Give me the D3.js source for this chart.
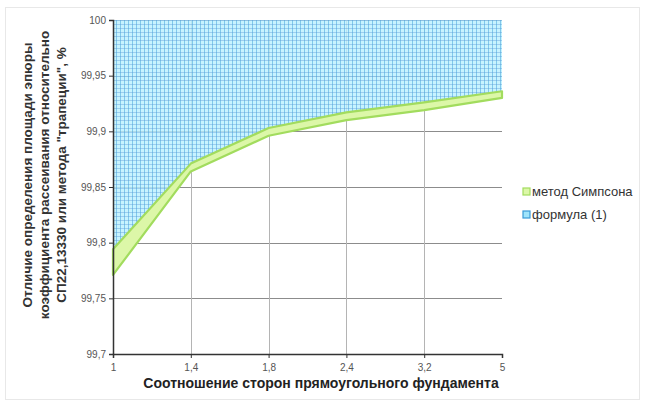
<!DOCTYPE html>
<html>
<head>
<meta charset="utf-8">
<script src="https://cdn.jsdelivr.net/npm/d3@7"></script>
<style>
  body { margin: 0; background: #fff; }
  text { font-family: "Liberation Sans", Arial, sans-serif; }
</style>
</head>
<body>
<script>
// ---- data ----
let categories = ['1', '1,4', '1,8', '2,4', '3,2', '5'];
let simpsonLow  = [99.771, 99.864, 99.896, 99.910, 99.919, 99.930];
let simpsonHigh = [99.794, 99.871, 99.903, 99.917, 99.926, 99.936];
let yTicks = [99.7, 99.75, 99.8, 99.85, 99.9, 99.95, 100];
let yTickLabels = ['99,7', '99,75', '99,8', '99,85', '99,9', '99,95', '100'];
let legendNames = ['метод Симпсона', 'формула (1)'];
let yTitle = ['Отличие определения площади эпюры',
              'коэффициента рассеивания относительно',
              'СП22,13330 или метода "трапеции", %'];
let xTitle = 'Соотношение сторон прямоугольного фундамента';

let W = 646, H = 406;
let plotLeft = 113, plotRight = 502, plotTop = 20, plotBottom = 354;

let svg = d3.select('body').append('svg')
    .attr('width', W)
    .attr('height', H);

// outer chart frame
svg.append('rect')
    .attr('x', 5.5).attr('y', 7.5)
    .attr('width', 634).attr('height', 392)
    .attr('fill', 'none')
    .attr('stroke', '#e8e8e8');

let x = d3.scalePoint().domain(categories).range([plotLeft, plotRight]);
let y = d3.scaleLinear().domain([99.7, 100]).range([plotBottom, plotTop]);

// grid pattern of the blue series
let defs = svg.append('defs');
let pat = defs.append('pattern')
    .attr('id', 'mesh')
    .attr('patternUnits', 'userSpaceOnUse')
    .attr('width', 4).attr('height', 4);
pat.append('rect').attr('width', 4).attr('height', 4).attr('fill', 'rgba(185,240,255,0.8)');
pat.append('line').attr('x1', 0.5).attr('x2', 0.5).attr('y1', 0).attr('y2', 4)
    .attr('stroke', 'rgba(60,160,215,0.5)').attr('stroke-width', 1);
pat.append('line').attr('x1', 0).attr('x2', 4).attr('y1', 0.5).attr('y2', 0.5)
    .attr('stroke', 'rgba(90,150,215,0.4)').attr('stroke-width', 1);

// ---- gridlines ----
svg.append('g')
    .selectAll('line')
    .data(yTicks.slice(1)).enter()
    .append('line')
        .attr('x1', plotLeft).attr('x2', plotRight)
        .attr('y1', function (d) { return Math.round(y(d)) + 0.5 })
        .attr('y2', function (d) { return Math.round(y(d)) + 0.5 })
        .attr('stroke', '#8c8c8c')
        .attr('stroke-width', 1);

svg.append('g')
    .selectAll('line')
    .data(categories.slice(1, -1)).enter()
    .append('line')
        .attr('x1', function (d) { return Math.round(x(d)) + 0.5 })
        .attr('x2', function (d) { return Math.round(x(d)) + 0.5 })
        .attr('y1', plotTop).attr('y2', plotBottom)
        .attr('stroke', '#b4b4b4')
        .attr('stroke-width', 1);

// ---- blue area: from upper curve to 100 ----
let blueArea = d3.area()
    .x(function (d, i) { return x(categories[i]) })
    .y0(function (d) { return y(d) })
    .y1(function () { return y(100) });

svg.append('path')
    .attr('d', blueArea(simpsonHigh))
    .attr('fill', 'url(#mesh)');

// ---- green band ----
let band = simpsonLow.map(function (d, i) { return { lo: d, hi: simpsonHigh[i] } });
let greenArea = d3.area()
    .x(function (d, i) { return x(categories[i]) })
    .y0(function (d) { return y(d.lo) })
    .y1(function (d) { return y(d.hi) });

svg.append('path')
    .attr('d', greenArea(band))
    .attr('fill', '#dcf7a8')
    .attr('stroke', '#a2dc5e')
    .attr('stroke-width', 2.2)
    .attr('stroke-linejoin', 'round');

// ---- axes ----
let yAxis = d3.axisLeft(y)
    .tickValues(yTicks)
    .tickSize(4)
    .tickFormat(function (d, i) { return yTickLabels[i] });

let gy = svg.append('g')
    .attr('transform', 'translate(' + plotLeft + ',0)')
    .call(yAxis);
gy.select('.domain').attr('stroke', '#333').attr('stroke-width', 1.5);
gy.selectAll('.tick line').attr('stroke', '#333');
gy.selectAll('.tick text')
    .attr('font-size', 10)
    .attr('fill', '#555')
    .attr('font-family', '"Liberation Sans", Arial, sans-serif')
    .attr('x', -7);

let xAxis = d3.axisBottom(x).tickSize(4).tickPadding(6);
let gx = svg.append('g')
    .attr('transform', 'translate(0,' + plotBottom + ')')
    .call(xAxis);
gx.select('.domain').attr('stroke', '#333').attr('stroke-width', 1.5);
gx.selectAll('.tick line').attr('stroke', '#333');
gx.selectAll('.tick text')
    .attr('font-size', 10)
    .attr('fill', '#555')
    .attr('font-family', '"Liberation Sans", Arial, sans-serif');

// ---- titles ----
svg.append('text')
    .attr('x', 321).attr('y', 388)
    .attr('text-anchor', 'middle')
    .attr('font-size', 14)
    .attr('font-weight', 'bold')
    .attr('fill', '#222')
    .text(xTitle);

svg.append('g')
    .attr('transform', 'translate(32,175) rotate(-90)')
    .selectAll('text')
    .data(yTitle).enter()
    .append('text')
        .attr('x', 0)
        .attr('y', function (d, i) { return i * 17 })
        .attr('text-anchor', 'middle')
        .attr('font-size', 13.5)
        .attr('font-weight', 'bold')
        .attr('fill', '#333')
        .text(function (d) { return d });

// ---- legend ----
let legendFill = ['#dcf7a8', '#9fe4fb'];
let legendStroke = ['#a2dc5e', '#3a9ad8'];
let lg = svg.append('g')
    .selectAll('g')
    .data(legendNames).enter()
    .append('g')
        .attr('transform', function (d, i) { return 'translate(523,' + (196 + i * 23) + ')' });
lg.append('rect')
    .attr('x', 0).attr('y', -8)
    .attr('width', 7).attr('height', 7)
    .attr('fill', function (d, i) { return legendFill[i] })
    .attr('stroke', function (d, i) { return legendStroke[i] })
    .attr('stroke-width', 1.2);
lg.append('text')
    .attr('x', 9).attr('y', 0)
    .attr('font-size', 13)
    .attr('fill', '#333')
    .text(function (d) { return d });
</script>
</body>
</html>
